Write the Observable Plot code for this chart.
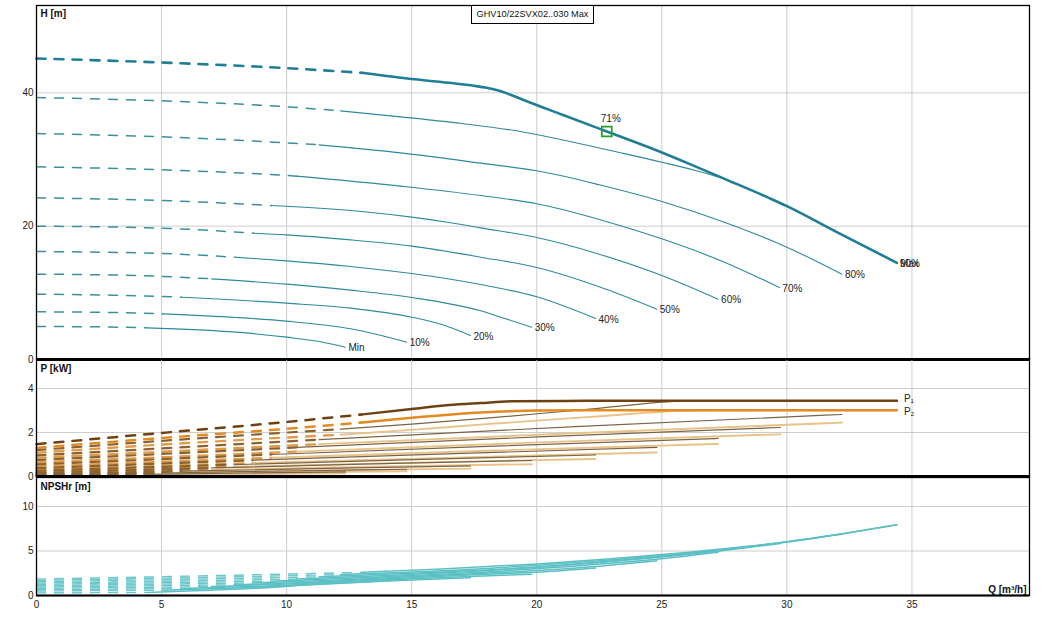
<!DOCTYPE html>
<html><head><meta charset="utf-8">
<script src="https://cdn.jsdelivr.net/npm/d3@7"></script>
<script src="https://cdn.jsdelivr.net/npm/@observablehq/plot@0.6"></script>
<style>
body{margin:0;background:#fff;}
#chart{position:relative;width:1047px;height:617px;font-family:"Liberation Sans",Arial,sans-serif;}
#chart svg{position:absolute;left:0;overflow:visible;}
#title{position:absolute;left:471px;top:5px;width:121px;height:17px;border:1px solid #000;background:#fff;font-size:9.2px;line-height:17px;text-align:center;color:#111;z-index:5;white-space:nowrap;}
</style></head><body>
<div id="chart"><div id="title">GHV10/22SVX02..030 Max</div></div>
<script>
// ---- categories / ticks ----
const speeds = ["Max","90%","80%","70%","60%","50%","40%","30%","20%","10%","Min"];
const dashEndQ = [13.0, 12.15, 11.3, 10.4, 9.4, 8.65, 7.9, 7.0, 5.8, 5.05, 4.4];
const qTicks = [0,5,10,15,20,25,30,35];
const hTicks = [0,20,40];
const pTicks = [0,2,4];
const nTicks = [0,5,10];

// ---- H [m] curves: [Q, H] ----
const hMax = [[0,45.15],[5,44.55],[10,43.7],[13,43.0],[14.56,42.25],[16.5,41.5],[17.5,41.05],[18,40.75],[18.5,40.3],[19,39.65],[19.5,38.9],[21,36.75],[22.8,34.2],[24.5,31.8],[26.1,29.35],[27.6,26.95],[29.3,24.2],[30,23.0],[32,19.1],[34.4,14.5]];
const h90 = [[0,39.3],[5,38.8],[10,37.9],[12.15,37.3],[14.56,36.4],[17,35.4],[19.5,34.1],[21.2,32.8],[23,31.3],[25,29.6],[26.3,28.4],[27.6,26.95],[29.3,24.2],[30,23.0],[32,19.1],[34.4,14.5]];
const h80 = [[0,33.9],[5,33.4],[10,32.5],[11.3,32.2],[14.56,31.0],[17.76,29.45],[20,28.3],[22.5,26.2],[25,23.7],[27.5,20.6],[30,16.85],[32.2,12.8]];
const h70 = [[0,28.9],[5,28.45],[10,27.6],[10.4,27.5],[14.56,26.0],[17.76,24.6],[20,23.35],[22.5,21.0],[25,18.1],[27.5,14.6],[29.7,10.8]];
const h60 = [[0,24.25],[5,23.85],[9.4,23.1],[13,22.2],[15,21.35],[16.5,20.55],[17.76,19.75],[20,18.3],[22.5,15.8],[25,12.6],[27.25,9.05]];
const h50 = [[0,20.0],[5,19.7],[8.65,18.95],[10,18.7],[12.56,17.95],[15,17.0],[17.76,15.35],[20,13.8],[22.8,10.5],[24.8,7.55]];
const h40 = [[0,16.2],[5,15.9],[7.9,15.35],[10,14.8],[12.56,13.95],[15,12.9],[17.76,11.25],[20,9.4],[22.35,6.15]];
const h30 = [[0,12.8],[4,12.6],[7.0,12.1],[10,11.3],[12.56,10.4],[15,9.3],[17.76,7.3],[18.56,6.35],[19.8,4.85]];
const h20 = [[0,9.8],[3,9.65],[5.8,9.35],[10,8.45],[12.56,7.7],[15,6.35],[16.3,5.15],[17.35,3.6]];
const h10 = [[0,7.15],[3,7.05],[5.05,6.85],[8,6.3],[10,5.75],[12.56,4.6],[14.8,2.6]];
const hMin = [[0,4.95],[2.5,4.9],[4.4,4.75],[8,4.1],[10,3.35],[11.3,2.7],[12.35,1.85]];
const dutyPoint = [{q:22.8, h:34.2, label:"71%"}];

// ---- P [kW] curves: P1 and P2 per speed ----
const p1Max = [[0,1.47],[5,1.98],[10,2.48],[13,2.82],[15,3.07],[16.5,3.25],[17.76,3.34],[19,3.42],[22,3.44],[34.4,3.45]];
const p2Max = [[0,1.3],[5,1.75],[10,2.17],[13,2.45],[15,2.67],[17.76,2.91],[20,3.0],[22,3.01],[34.4,3.01]];
const p190 = [[0,1.2],[6,1.7],[12.15,2.15],[15,2.38],[18,2.65],[22,3.05],[26,3.43],[34.4,3.45]];
const p290 = [[0,1.08],[6,1.52],[12.15,1.9],[15,2.12],[18,2.38],[22,2.7],[26.5,3.0],[34.4,3.01]];
const p180 = [[0,0.96],[11.3,1.68],[21.75,2.28],[32.2,2.82]];
const p280 = [[0,0.85],[11.3,1.47],[21.75,1.98],[32.2,2.45]];
const p170 = [[0,0.75],[10.4,1.32],[20.07,1.80],[29.74,2.23]];
const p270 = [[0,0.64],[10.4,1.13],[20.07,1.55],[29.74,1.92]];
const p160 = [[0,0.55],[9.4,1.0],[18.3,1.38],[27.25,1.73]];
const p260 = [[0,0.46],[9.4,0.85],[18.3,1.18],[27.25,1.48]];
const p150 = [[0,0.38],[8.65,0.74],[16.7,1.04],[24.8,1.32]];
const p250 = [[0,0.31],[8.65,0.61],[16.7,0.86],[24.8,1.09]];
const p140 = [[0,0.26],[7.9,0.54],[15.1,0.77],[22.35,0.98]];
const p240 = [[0,0.21],[7.9,0.44],[15.1,0.63],[22.35,0.80]];
const p130 = [[0,0.17],[7.0,0.39],[13.4,0.57],[19.8,0.73]];
const p230 = [[0,0.13],[7.0,0.30],[13.4,0.44],[19.8,0.56]];
const p120 = [[0,0.10],[5.8,0.24],[11.6,0.37],[17.35,0.48]];
const p220 = [[0,0.08],[5.8,0.18],[11.6,0.28],[17.35,0.36]];
const p110 = [[0,0.06],[5.05,0.16],[9.9,0.25],[14.8,0.33]];
const p210 = [[0,0.045],[5.05,0.12],[9.9,0.18],[14.8,0.24]];
const p1Min = [[0,0.035],[4.4,0.10],[8.4,0.16],[12.35,0.21]];
const p2Min = [[0,0.025],[4.4,0.07],[8.4,0.11],[12.35,0.15]];
const pLabels = ["P\u2081","P\u2082"];

// ---- NPSHr [m] curves ----
const nMax = [[0,1.85],[6.5,2.2],[13,2.6],[16,2.95],[20,3.55],[25,4.6],[30,6.05],[32,6.85],[34.4,7.94]];
const n90 = [[0,1.7],[6,2.0],[12.15,2.35],[16,2.75],[20,3.4],[25,4.5],[30,6.0],[32,6.82],[34.4,7.94]];
const n80 = [[0,1.55],[5.6,1.8],[11.3,2.1],[15,2.5],[20,3.2],[25,4.4],[28,5.35],[30,6.0],[32.2,6.9]];
const n70 = [[0,1.4],[5.2,1.6],[10.4,1.85],[14,2.25],[18,2.8],[22,3.6],[26,4.6],[29.74,5.85]];
const n60 = [[0,1.25],[4.7,1.42],[9.4,1.6],[13,2.0],[17,2.5],[21,3.2],[25,4.12],[27.25,4.85]];
const n50 = [[0,1.1],[4.3,1.25],[8.65,1.4],[12,1.75],[16,2.25],[20,2.8],[22.5,3.3],[24.8,3.9]];
const n40 = [[0,0.95],[3.9,1.07],[7.9,1.2],[11,1.5],[15,2.0],[18,2.4],[20,2.62],[22.35,3.1]];
const n30 = [[0,0.8],[3.5,0.9],[7.0,1.0],[10,1.3],[13,1.65],[16,2.0],[19.8,2.4]];
const n20 = [[0,0.65],[2.9,0.72],[5.8,0.8],[9,1.05],[12,1.4],[15,1.75],[17.35,2.0]];
const n10 = [[0,0.5],[2.5,0.55],[5.05,0.6],[8,0.85],[11,1.2],[13,1.5],[14.8,1.8]];
const nMin = [[0,0.3],[2.2,0.32],[4.4,0.35],[6.6,0.55],[9,0.85],[10.8,1.2],[12.35,1.5]];

// ---- build tables ----
function segRows(curves) {
  const dash = [], solid = [], ends = [];
  curves.forEach((pts, i) => {
    const name = speeds[i], qs = dashEndQ[i];
    pts.forEach(([q, v]) => {
      if (q <= qs) dash.push({name, q, v, max: i === 0});
      if (q >= qs) solid.push({name, q, v, max: i === 0});
    });
    const last = pts[pts.length - 1];
    ends.push({name, q: last[0], v: last[1]});
  });
  return {dash, solid, ends};
}
const H = segRows([hMax,h90,h80,h70,h60,h50,h40,h30,h20,h10,hMin]);
const P1 = segRows([p1Max,p190,p180,p170,p160,p150,p140,p130,p120,p110,p1Min]);
const P2 = segRows([p2Max,p290,p280,p270,p260,p250,p240,p230,p220,p210,p2Min]);
const N = segRows([nMax,n90,n80,n70,n60,n50,n40,n30,n20,n10,nMin]);

const FONT = "Liberation Sans, Arial, sans-serif";
const X = {domain:[0,39.7]};
const gridQ = qTicks.filter(t => t > 0);
const GRID = {stroke:"#cdcdcd", strokeOpacity:1, strokeWidth:1};
const common = {width:1047, marginLeft:36, marginRight:18,
  style:{fontFamily:FONT, fontSize:"10px", background:"transparent", overflow:"visible", color:"#222"}};
const chart = document.getElementById("chart");
function place(svg, top){ svg.style.top = top + "px"; chart.appendChild(svg); }

// ---- H panel ----
place(Plot.plot({...common, height:360, marginTop:5, marginBottom:1,
  x:{...X, axis:null}, y:{domain:[0,53.1], axis:null},
  marks:[
    Plot.gridX(gridQ, GRID),
    Plot.gridY(hTicks.filter(t=>t>0), GRID),
    Plot.axisY(hTicks, {tickSize:0, tickPadding:3, label:null, fill:"#222"}),
    Plot.line(H.dash.filter(d=>!d.max), {x:"q", y:"v", z:"name", stroke:"#3a90a0", strokeWidth:1.5, strokeDasharray:"9,9", curve:"monotone-x"}),
    Plot.line(H.solid.filter(d=>!d.max), {x:"q", y:"v", z:"name", stroke:"#2c8a9c", strokeWidth:1.1, curve:"monotone-x"}),
    Plot.line(H.dash.filter(d=>d.max), {x:"q", y:"v", stroke:"#1f7d96", strokeWidth:2.6, strokeDasharray:"9,9", curve:"monotone-x"}),
    Plot.line(H.solid.filter(d=>d.max), {x:"q", y:"v", stroke:"#1f7d96", strokeWidth:2.6, curve:"monotone-x"}),
    Plot.text(H.ends, {x:"q", y:"v", text:"name", dx:3, dy:1, textAnchor:"start", fill:"#222"}),
    Plot.dot(dutyPoint, {x:"q", y:"h", symbol:"square", r:5.6, stroke:"#25a025", strokeWidth:1.7, fill:"none"}),
    Plot.text(dutyPoint, {x:"q", y:"h", text:"label", dx:4, dy:-13, fill:"#222"}),
    Plot.text(["H [m]"], {text:d=>d, frameAnchor:"top-left", dx:4, dy:4, lineAnchor:"top", textAnchor:"start", fontWeight:"bold", fill:"#111"}),
    Plot.frame({stroke:"#000", strokeWidth:1.3}),
    Plot.ruleY([0], {stroke:"#000", strokeWidth:3})
  ]}), 0);

// ---- P panel ----
const pEnds = [{q:p1Max[p1Max.length-1][0], v:p1Max[p1Max.length-1][1], t:pLabels[0], off:-1.5},
               {q:p2Max[p2Max.length-1][0], v:p2Max[p2Max.length-1][1], t:pLabels[1], off:1.5}];
place(Plot.plot({...common, height:118, marginTop:0, marginBottom:1,
  x:{...X, axis:null}, y:{domain:[0,5.32], axis:null},
  marks:[
    Plot.gridX(gridQ, GRID),
    Plot.gridY(pTicks.filter(t=>t>0), GRID),
    Plot.axisY(pTicks, {tickSize:0, tickPadding:3, label:null, fill:"#222"}),
    Plot.line(P2.dash.filter(d=>!d.max), {x:"q", y:"v", z:"name", stroke:"#e39a45", strokeWidth:2.4, strokeDasharray:"9,9", curve:"monotone-x"}),
    Plot.line(P1.dash.filter(d=>!d.max), {x:"q", y:"v", z:"name", stroke:"#8a6330", strokeWidth:2.2, strokeDasharray:"9,9", curve:"monotone-x"}),
    Plot.line(P2.solid.filter(d=>!d.max), {x:"q", y:"v", z:"name", stroke:"#e9c288", strokeWidth:1.9, curve:"monotone-x"}),
    Plot.line(P1.solid.filter(d=>!d.max), {x:"q", y:"v", z:"name", stroke:"#7b6446", strokeWidth:1.2, curve:"monotone-x"}),
    Plot.line(P2.dash.filter(d=>d.max), {x:"q", y:"v", stroke:"#e38a22", strokeWidth:2.5, strokeDasharray:"9,9", curve:"monotone-x"}),
    Plot.line(P2.solid.filter(d=>d.max), {x:"q", y:"v", stroke:"#e38a22", strokeWidth:2.5, curve:"monotone-x"}),
    Plot.line(P1.dash.filter(d=>d.max), {x:"q", y:"v", stroke:"#6e4210", strokeWidth:2.5, strokeDasharray:"9,9", curve:"monotone-x"}),
    Plot.line(P1.solid.filter(d=>d.max), {x:"q", y:"v", stroke:"#6e4210", strokeWidth:2.5, curve:"monotone-x"}),
    Plot.text([pEnds[0]], {x:"q", y:"v", text:"t", dx:7, dy:-1.5, textAnchor:"start", fill:"#222", fontSize:10}),
    Plot.text([pEnds[1]], {x:"q", y:"v", text:"t", dx:7, dy:1.5, textAnchor:"start", fill:"#222", fontSize:10}),
    Plot.text(["P [kW]"], {text:d=>d, frameAnchor:"top-left", dx:4, dy:5, lineAnchor:"top", textAnchor:"start", fontWeight:"bold", fill:"#111"}),
    Plot.frame({stroke:"#000", strokeWidth:1.3}),
    Plot.ruleY([0], {stroke:"#000", strokeWidth:3})
  ]}), 359);

// ---- NPSHr panel ----
place(Plot.plot({...common, height:140, marginTop:0, marginBottom:22,
  x:{...X}, y:{domain:[0,13.26], axis:null},
  marks:[
    Plot.gridX(gridQ, GRID),
    Plot.gridY(nTicks.filter(t=>t>0), GRID),
    Plot.axisY(nTicks, {tickSize:0, tickPadding:3, label:null, fill:"#222"}),
    Plot.axisX(qTicks, {tickSize:0, tickPadding:5, label:null, fill:"#222"}),
    Plot.line(N.dash, {x:"q", y:"v", z:"name", stroke:"#6cc8cb", strokeWidth:1.4, strokeDasharray:"9,9", curve:"monotone-x"}),
    Plot.line(N.solid, {x:"q", y:"v", z:"name", stroke:"#5cc0c4", strokeWidth:1.5, curve:"monotone-x"}),
    Plot.text(["NPSHr [m]"], {text:d=>d, frameAnchor:"top-left", dx:4, dy:5, lineAnchor:"top", textAnchor:"start", fontWeight:"bold", fill:"#111"}),
    Plot.text(["Q [m\u00b3/h]"], {text:d=>d, frameAnchor:"bottom-right", dx:-3, dy:-3, lineAnchor:"bottom", textAnchor:"end", fontWeight:"bold", fill:"#111"}),
    Plot.frame({stroke:"#000", strokeWidth:1.3}),
    Plot.ruleY([0], {stroke:"#000", strokeWidth:2})
  ]}), 477);
</script></body></html>
